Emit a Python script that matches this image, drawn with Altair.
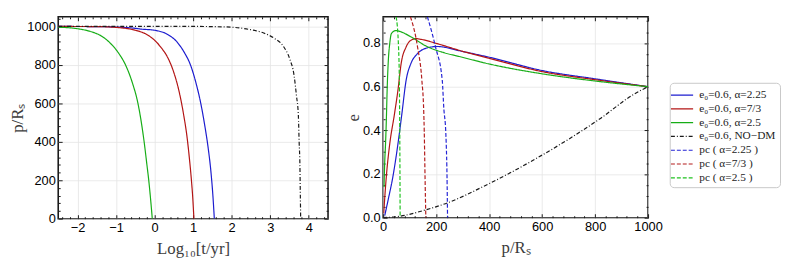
import altair as alt
import pandas as pd

SERIES = ["e₀=0.6, α=2.25", "e₀=0.6, α=7/3", "e₀=0.6, α=2.5", "e₀=0.6, NO−DM",
          "pc ( α=2.25 )", "pc ( α=7/3 )", "pc ( α=2.5 )"]
COLORS = ["#1c1ccf", "#b31414", "#16ad16", "#1a1a1a", "#2424d6", "#b31c1c", "#1fc21f"]
DASHES = [[1, 0], [1, 0], [1, 0], [4, 2, 1, 2], [4, 2], [4, 2], [4, 2]]

# ---- left panel: Log10[t/yr] vs p/Rs ----
LT_BLUE = [-2.5, -1.5, -1.0, -0.5, -0.34, 0.0, 0.34, 0.6, 0.77, 0.94, 1.07, 1.2, 1.3, 1.39, 1.46, 1.51, 1.55]
LP_BLUE = [1000, 999, 997, 990, 986, 980, 958, 915, 865, 795, 709, 598, 487, 368, 248, 128, 0]
LT_RED = [-2.5, -1.5, -1.0, -0.5, -0.25, 0.0, 0.17, 0.32, 0.49, 0.63, 0.75, 0.84, 0.91, 0.96, 0.99, 1.02]
LP_RED = [1000, 999, 995, 980, 963, 928, 890, 846, 766, 667, 545, 428, 300, 190, 110, 0]
LT_GREEN = [-2.5, -2.0, -1.67, -1.37, -1.16, -0.94, -0.75, -0.58, -0.43, -0.32, -0.27, -0.2, -0.15, -0.1, -0.06]
LP_GREEN = [996, 988, 974, 949, 915, 863, 798, 709, 598, 470, 398, 282, 197, 94, 0]
LT_NODM = [-2.5, 0.0, 1.0, 1.5, 2.0, 2.49, 2.83, 3.09, 3.34, 3.51, 3.62, 3.68, 3.73, 3.75, 3.77, 3.78, 3.79]
LP_NODM = [1000, 1000, 1000, 999, 996, 983, 966, 940, 897, 829, 744, 641, 538, 402, 282, 145, 0]

# ---- right panel: p/Rs vs e ----
RP_BLUE = [6, 19, 37, 56, 70, 87, 105, 130, 167, 204, 297, 400, 600, 800, 1000]
RE_BLUE = [0.01, 0.083, 0.19, 0.34, 0.47, 0.632, 0.707, 0.752, 0.778, 0.784, 0.762, 0.735, 0.674, 0.636, 0.6]
RP_RED = [2, 12, 25, 42, 56, 68, 87, 105, 124, 142, 204, 297, 400, 600, 800, 1000]
RE_RED = [0.02, 0.19, 0.34, 0.47, 0.586, 0.707, 0.783, 0.813, 0.82, 0.817, 0.797, 0.763, 0.73, 0.669, 0.632, 0.6]
RP_GREEN = [3, 6, 9, 12, 15, 19, 25, 31, 48, 70, 105, 167, 229, 291, 400, 600, 800, 1000]
RE_GREEN = [0.14, 0.26, 0.34, 0.45, 0.586, 0.71, 0.8, 0.843, 0.857, 0.85, 0.828, 0.783, 0.756, 0.737, 0.704, 0.659, 0.626, 0.6]
RP_NODM = [0, 64, 161, 243, 390, 576, 823, 947, 1000]
RE_NODM = [0.0, 0.007, 0.036, 0.068, 0.15, 0.27, 0.457, 0.566, 0.6]
RP_PC_BLUE = [167, 198, 223, 229, 236, 238, 241, 243]
RE_PC_BLUE = [0.92, 0.78, 0.63, 0.5, 0.4, 0.34, 0.19, 0.0]
RP_PC_RED = [103, 130, 146, 153, 155, 158, 161]
RE_PC_RED = [0.92, 0.78, 0.63, 0.49, 0.4, 0.19, 0.0]
RP_PC_GREEN = [49, 58, 61, 63, 64]
RE_PC_GREEN = [0.92, 0.78, 0.63, 0.3, 0.0]

# ---- ticks ----
LX_MAJOR = [-2, -1, 0, 1, 2, 3, 4]
LX_MINOR = [round(-2.4 + 0.2 * i, 1) for i in range(35) if i % 5 != 2]
LY_MAJOR = [0, 200, 400, 600, 800, 1000]
LY_MINOR = [v for v in range(0, 1041, 40) if v % 200 != 0]
RX_MAJOR = [0, 200, 400, 600, 800, 1000]
RX_MINOR = [v for v in range(0, 1001, 40) if v % 200 != 0]
RY_MAJOR = [0.0, 0.2, 0.4, 0.6, 0.8]
RY_MINOR = [round(0.05 * i, 2) for i in range(19) if i % 4 != 0]


def rows(xs, ys, s):
    return [{"x": a, "y": b, "s": s} for a, b in zip(xs, ys)]


left_df = pd.DataFrame(
    rows(LT_BLUE, LP_BLUE, SERIES[0]) + rows(LT_RED, LP_RED, SERIES[1])
    + rows(LT_GREEN, LP_GREEN, SERIES[2]) + rows(LT_NODM, LP_NODM, SERIES[3])
)
right_df = pd.DataFrame(
    rows(RP_BLUE, RE_BLUE, SERIES[0]) + rows(RP_RED, RE_RED, SERIES[1])
    + rows(RP_GREEN, RE_GREEN, SERIES[2]) + rows(RP_NODM, RE_NODM, SERIES[3])
    + rows(RP_PC_BLUE, RE_PC_BLUE, SERIES[4]) + rows(RP_PC_RED, RE_PC_RED, SERIES[5])
    + rows(RP_PC_GREEN, RE_PC_GREEN, SERIES[6])
)

MAJ, MIN = 4, 2
legend = alt.Legend(orient="none", legendX=621, legendY=67, title=None)


def label_axis(orient, majors, fmt, title, tp):
    return alt.Axis(orient=orient, values=majors, offset=-MAJ, tickSize=MAJ, domain=False,
                    format=fmt, labelPadding=3, labelFlush=False, grid=True, title=title,
                    titlePadding=tp)


def tick_axis(orient, values, size):
    return alt.Axis(orient=orient, values=values, offset=-size, tickSize=size, domain=False,
                    labels=False, grid=False, title=None)


def panel(df, xdom, ydom, xm, xn, ym, yn, xfmt, yfmt, xtitle, ytitle, w, h):
    xs = alt.Scale(domain=xdom, nice=False, zero=False)
    ys = alt.Scale(domain=ydom, nice=False, zero=False)
    lines = alt.Chart(df).mark_line(strokeWidth=1.2, clip=True, interpolate="monotone").encode(
        x=alt.X("x:Q", scale=xs, axis=label_axis("bottom", xm, xfmt, xtitle, 6)),
        y=alt.Y("y:Q", scale=ys, axis=label_axis("left", ym, yfmt, ytitle, 0)),
        color=alt.Color("s:N", scale=alt.Scale(domain=SERIES, range=COLORS), legend=legend),
        strokeDash=alt.StrokeDash("s:N", scale=alt.Scale(domain=SERIES, range=DASHES), legend=legend),
    )
    layers = [lines]
    for xo, yo, xv, yv, size in [("top", "right", xm, ym, MAJ), ("bottom", "left", xn, yn, MIN),
                                 ("top", "right", xn, yn, MIN)]:
        layers.append(alt.Chart(df).mark_point(opacity=0).encode(
            x=alt.X("x:Q", scale=xs, axis=tick_axis(xo, xv, size)),
            y=alt.Y("y:Q", scale=ys, axis=tick_axis(yo, yv, size)),
        ))
    return alt.layer(*layers).resolve_axis(x="independent", y="independent").properties(
        width=w, height=h)


left = panel(left_df, [-2.5, 4.5], [0, 1050], LX_MAJOR, LX_MINOR, LY_MAJOR, LY_MINOR,
             "d", "d", "Log₁₀[t/yr]", "p/Rₛ", 274, 205)
right = panel(right_df, [0, 1000], [0, 0.92], RX_MAJOR, RX_MINOR, RY_MAJOR, RY_MINOR,
              "d", ".1f", "p/Rₛ", "e", 269, 204)

chart = alt.hconcat(left, right, spacing=14).properties(
    padding={"left": 0, "top": 3, "right": 0, "bottom": 0}
).configure_view(stroke="#1a1a1a", strokeWidth=1.6).configure_axis(
    labelFont="Liberation Sans", labelFontSize=13, labelColor="black",
    titleFont="Liberation Serif", titleFontSize=17, titleFontWeight="normal", titleColor="#3c3c3c",
    tickColor="#1a1a1a", tickWidth=1, gridColor="#e4e4e4", gridWidth=0.8,
).configure_legend(
    labelFont="Liberation Serif", labelFontSize=11.5, labelColor="#222", labelLimit=200,
    symbolType="M-1.5,0H1.5", symbolSize=225, symbolStrokeWidth=1.2, rowPadding=0,
    strokeColor="#c8c8c8", cornerRadius=4, padding=4, fillColor="white", labelOffset=9,
)

chart.save("out.html", embed_options={"renderer": "svg", "actions": False})
